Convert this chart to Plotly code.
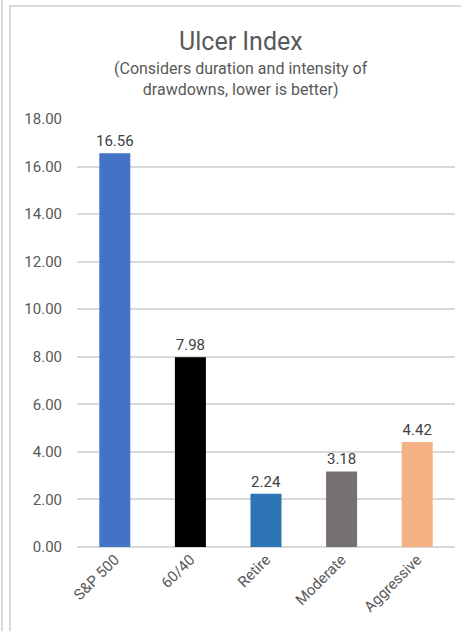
import plotly.graph_objects as go

categories = ["S&P 500", "60/40", "Retire", "Moderate", "Aggressive"]
ulcer_values = [16.56, 7.98, 2.24, 3.18, 4.42]
bar_colors = ["#4472C4", "#000000", "#2E75B6", "#767171", "#F4B183"]
y_ticks = [0, 2, 4, 6, 8, 10, 12, 14, 16, 18]

W, H = 461, 631
L, R, T, B = 77, 6, 119, 84
pw, ph = W - L - R, H - T - B


def px_x(px):
    return (px - L) / pw


def px_y(py):
    return (H - B - py) / ph


fig = go.Figure(go.Bar(
    x=categories,
    y=ulcer_values,
    marker_color=bar_colors,
    marker_line_width=0,
    text=[f"{v:.2f}" for v in ulcer_values],
    textposition="outside",
    constraintext="none",
    textfont=dict(size=15, color="#404040"),
    cliponaxis=False,
))

fig.update_layout(
    width=W, height=H,
    margin=dict(l=L, r=R, t=T, b=B),
    paper_bgcolor="white",
    plot_bgcolor="white",
    font=dict(family="Roboto, Arial", color="#595959"),
    bargap=0.59,
    showlegend=False,
    xaxis=dict(tickangle=-45, tickfont=dict(size=15, color="#595959"),
               showline=False, ticks=""),
    yaxis=dict(range=[0, 18], tickvals=y_ticks,
               ticktext=[f"{v:.2f}" for v in y_ticks],
               tickfont=dict(size=15, color="#595959"),
               gridcolor="#D9D9D9", gridwidth=1.5, zeroline=True,
               zerolinecolor="#D9D9D9", zerolinewidth=1.5,
               ticks="", ticklabelstandoff=14),
)

# chart title and subtitle
fig.add_annotation(x=px_x(241), y=px_y(42), xref="paper", yref="paper",
                   xanchor="center", yanchor="middle",
                   text="Ulcer Index", showarrow=False,
                   font=dict(size=25, color="#595959"))
fig.add_annotation(x=px_x(241), y=px_y(79), xref="paper", yref="paper",
                   xanchor="center", yanchor="middle",
                   text="(Considers duration and intensity of<br>drawdowns, lower is better)",
                   showarrow=False, font=dict(size=16, color="#595959"))

# frame lines
fig.add_shape(type="line", xref="paper", yref="paper",
              x0=px_x(2), x1=px_x(2), y0=px_y(0), y1=px_y(H),
              line=dict(color="#D9D9D9", width=2))
fig.add_shape(type="rect", xref="paper", yref="paper",
              x0=px_x(10), x1=px_x(W + 10), y0=px_y(H + 10), y1=px_y(6),
              line=dict(color="#D9D9D9", width=2))

fig.write_html("out.html", config={"displayModeBar": False},
               post_script="document.body.style.margin='0';")
